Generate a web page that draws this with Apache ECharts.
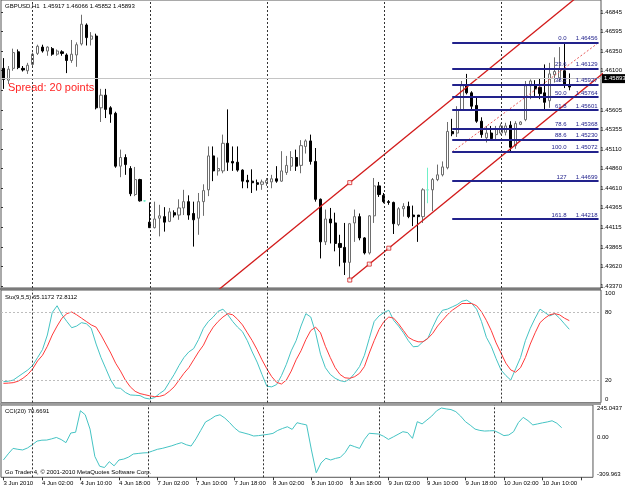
<!DOCTYPE html>
<html>
<head>
<meta charset="utf-8">
<script src="https://cdn.jsdelivr.net/npm/echarts@6/dist/echarts.min.js"></script>
<style>
  html, body { margin: 0; padding: 0; background: #fff; }
  #chart { width: 625px; height: 488px; }
</style>
</head>
<body>
<div id="chart"></div>
<script>
// time axis: one label every 8 hourly bars
const timeLabels = ['3 Jun 2010', '4 Jun 02:00', '4 Jun 10:00', '4 Jun 18:00', '7 Jun 02:00',
  '7 Jun 10:00', '7 Jun 18:00', '8 Jun 02:00', '8 Jun 10:00', '8 Jun 18:00', '9 Jun 02:00',
  '9 Jun 10:00', '9 Jun 18:00', '10 Jun 02:00', '10 Jun 10:00'];
const barsPerLabel = 8;
const slotCount = 123; // bar slots, incl. the empty shift on the right
const dayBreaks = [6, 30, 54, 78, 102];

// GBPUSD H1 candles
const opens = [1.4613, 1.4598, 1.4613, 1.4634, 1.4613, 1.4610, 1.4618, 1.4632, 1.4640, 1.4635,
  1.4638, 1.4631, 1.4634, 1.4630, 1.4623, 1.4630, 1.4644, 1.4668, 1.4650, 1.4654,
  1.4563, 1.4579, 1.4563, 1.4556, 1.4489, 1.4500, 1.4486, 1.4453, 1.4472, 1.4445,
  1.4418, 1.4411, 1.4423, 1.4425, 1.4419, 1.4430, 1.4427, 1.4436, 1.4444, 1.4429,
  1.4423, 1.4444, 1.4459, 1.4502, 1.4483, 1.4483, 1.4518, 1.4495, 1.4494, 1.4484,
  1.4471, 1.4470, 1.4468, 1.4466, 1.4468, 1.4469, 1.4473, 1.4470, 1.4481, 1.4489,
  1.4500, 1.4490, 1.4514, 1.4521, 1.4495, 1.4447, 1.4393, 1.4422, 1.4417, 1.4391,
  1.4386, 1.4367, 1.4417, 1.4425, 1.4398, 1.4379, 1.4426, 1.4464, 1.4452, 1.4444,
  1.4443, 1.4415, 1.4435, 1.4438, 1.4427, 1.4427, 1.4425, 1.4459, 1.4459, 1.4472,
  1.4478, 1.4487, 1.4533, 1.4531, 1.4560, 1.4591, 1.4582, 1.4566, 1.4546, 1.4525,
  1.4531, 1.4529, 1.4531, 1.4532, 1.4541, 1.4515, 1.4542, 1.4548, 1.4591, 1.4592,
  1.4589, 1.4582, 1.4572, 1.4605, 1.4601, 1.4610, 1.45917];
const highs = [1.4626, 1.4616, 1.4638, 1.4637, 1.4616, 1.4620, 1.4633, 1.4643, 1.4643, 1.4641,
  1.4640, 1.4637, 1.4636, 1.4632, 1.4649, 1.4646, 1.4681, 1.4670, 1.4659, 1.4657,
  1.4587, 1.4587, 1.4565, 1.4558, 1.4510, 1.4504, 1.4489, 1.4488, 1.4473, 1.4446,
  1.4443, 1.4444, 1.4440, 1.4437, 1.4436, 1.4433, 1.4447, 1.4459, 1.4452, 1.4444,
  1.4455, 1.4466, 1.4514, 1.4514, 1.4500, 1.4529, 1.4561, 1.4514, 1.4514, 1.4485,
  1.4478, 1.4485, 1.4472, 1.4472, 1.4474, 1.4478, 1.4489, 1.4508, 1.4502, 1.4508,
  1.4510, 1.4522, 1.4523, 1.4529, 1.4512, 1.4448, 1.4434, 1.4436, 1.4430, 1.4402,
  1.4417, 1.4417, 1.4434, 1.4429, 1.4399, 1.4427, 1.4474, 1.4469, 1.4455, 1.4446,
  1.4444, 1.4437, 1.4442, 1.4444, 1.4439, 1.4427, 1.4461, 1.4487, 1.4474, 1.4491,
  1.4495, 1.4545, 1.4549, 1.4565, 1.4597, 1.4606, 1.4584, 1.4576, 1.4551, 1.4540,
  1.4540, 1.4540, 1.4543, 1.4544, 1.4546, 1.4546, 1.4546, 1.4597, 1.4599, 1.4598,
  1.4600, 1.4618, 1.4620, 1.4627, 1.4640, 1.46456, 1.46066];
const lows = [1.4587, 1.4593, 1.4610, 1.4612, 1.4609, 1.4606, 1.4614, 1.4630, 1.4633, 1.4629,
  1.4629, 1.4629, 1.4629, 1.4607, 1.4620, 1.4615, 1.4642, 1.4642, 1.4642, 1.4561,
  1.4545, 1.4550, 1.4544, 1.4487, 1.4475, 1.4478, 1.4451, 1.4451, 1.4444, 1.4444,
  1.4411, 1.4410, 1.4400, 1.4406, 1.4418, 1.4424, 1.4421, 1.4427, 1.4421, 1.4387,
  1.4402, 1.4426, 1.4451, 1.4470, 1.4477, 1.4480, 1.4483, 1.4483, 1.4482, 1.4461,
  1.4461, 1.4455, 1.4458, 1.4459, 1.4464, 1.4461, 1.4468, 1.4469, 1.4478, 1.4483,
  1.4483, 1.4480, 1.4505, 1.4491, 1.4444, 1.4372, 1.4389, 1.4391, 1.4381, 1.4362,
  1.4351, 1.43446, 1.4393, 1.4395, 1.4377, 1.4377, 1.4417, 1.4450, 1.4442, 1.4440,
  1.4403, 1.4413, 1.4425, 1.4423, 1.4413, 1.4393, 1.4417, 1.4442, 1.4432, 1.4470,
  1.4476, 1.4485, 1.4527, 1.4526, 1.4559, 1.4580, 1.4561, 1.4544, 1.4525, 1.4519,
  1.4523, 1.4521, 1.4529, 1.4528, 1.45072, 1.4511, 1.4541, 1.4546, 1.4574, 1.4578,
  1.4574, 1.4559, 1.4563, 1.4595, 1.4596, 1.4588, 1.45852];
const closes = [1.4599, 1.4612, 1.4633, 1.4614, 1.4611, 1.4617, 1.4631, 1.4641, 1.4635, 1.4640,
  1.4631, 1.4635, 1.4632, 1.4623, 1.4631, 1.4643, 1.4669, 1.4652, 1.4654, 1.4563,
  1.4579, 1.4561, 1.4555, 1.4489, 1.4500, 1.4491, 1.4454, 1.4472, 1.4445, 1.4445,
  1.4411, 1.4422, 1.4426, 1.4418, 1.4431, 1.4427, 1.4436, 1.4444, 1.4427, 1.4421,
  1.4444, 1.4458, 1.4502, 1.4483, 1.4486, 1.4518, 1.4494, 1.4493, 1.4484, 1.4470,
  1.4469, 1.4468, 1.4466, 1.4469, 1.4471, 1.4473, 1.4470, 1.4483, 1.4490, 1.4500,
  1.4489, 1.4515, 1.4521, 1.4495, 1.4447, 1.4393, 1.4422, 1.4417, 1.4391, 1.4386,
  1.4367, 1.4416, 1.4425, 1.4398, 1.4379, 1.4426, 1.4464, 1.4453, 1.4444, 1.4443,
  1.4416, 1.4435, 1.4438, 1.4425, 1.4425, 1.4425, 1.4459, 1.4459, 1.4472, 1.4478,
  1.4488, 1.4533, 1.4530, 1.4560, 1.4591, 1.4582, 1.4565, 1.4546, 1.4529, 1.4531,
  1.4524, 1.4536, 1.4540, 1.4540, 1.4513, 1.4543, 1.4545, 1.4591, 1.4597, 1.4587,
  1.4581, 1.4570, 1.4606, 1.4609, 1.4612, 1.4592, 1.45893];

// Stochastic(9,5,5)
const stochMain = [18.6, 19, 20, 23, 26, 29, 33, 40, 47, 60,
  80, 86, 78, 72, 66.5, 68, 71, 70, 66, 52,
  40, 30, 20, 13, 12.7, 9, 6.8, 6.5, 6.2, 4,
  3.2, 4.5, 8, 11, 18, 25, 33, 40, 45, 48,
  56, 66, 72, 76, 81, 83, 78, 72, 67, 63,
  55, 45, 36, 25, 14.5, 14, 16, 24, 34, 46,
  55, 68, 79, 76, 62, 43, 31, 25, 21.6, 19.5,
  18.6, 21, 26, 32, 42, 57, 72, 77, 80, 82,
  73, 68, 62, 55, 49.6, 50, 54, 57, 67, 76,
  82, 83, 85, 87, 90, 91, 88, 83, 72, 58,
  50, 39, 29, 24, 20, 30, 40, 55, 66, 75,
  83, 80, 77, 79, 75, 70, 65.1172];
const stochSignal = [17.1, 17.3, 17.7, 19, 21.6, 25, 30, 37, 42, 50,
  60, 68, 75, 79, 80.5, 78, 75, 72, 69, 67,
  60, 52, 44, 35, 28, 20, 14, 10, 8, 7,
  6, 5.3, 5.5, 6.8, 10, 14, 20, 26, 31, 38,
  45, 51, 60, 67, 72, 76, 79, 78, 74, 69,
  62, 55, 47, 38, 30, 23, 18, 16.5, 20, 28,
  38, 46, 56, 64, 67, 62, 50, 40, 31, 25,
  22, 21.6, 23, 26, 32, 44, 55, 65, 72, 76,
  75, 70, 64, 58, 55.5, 54, 54, 57, 61.5, 68,
  73, 78, 82, 85, 88, 88, 88, 86, 80.7, 73,
  64, 53, 44, 35, 29, 27, 31, 40, 52, 62,
  71, 75, 78, 79, 78, 75, 72.8112];

// CCI(20)
const cci = [-177, -130, -88, -95, -100, -85, -60, -32, -25, -24,
  -15, -4, -20, -44, 30, 36, 201, 170, 60, -150,
  -225, -235, -190, -222, -177, -170, -155, -131, -127, -123,
  -121, -108, -95, -88, -78, -68, -55, -44, -60, -70,
  -15, 50, 115, 135, 160, 170, 145, 110, 70, 40,
  30, 20, 7, 10, 15, 20, 27, 50, 65, 78,
  58, 109, 100, 92, -100, -275, -200, -164, -177, -165,
  -157, -120, -62, -75, -88, -20, 28, 25, 22, 5,
  -19, 0, 20, 40, 33, -11, 117, 100, 130, 160,
  200, 222, 215, 210, 194, 160, 117, 90, 60, 50,
  45, 47, 48, 30, 10, 15, 40, 110, 150, 125,
  92, 100, 108, 115, 124, 105, 70.6691];

// price scale (bottom to top); the 11th label is hidden under the bid box
const priceTicks = ['1.43370', '1.43620', '1.43865', '1.44115', '1.44365', '1.44610', '1.44860',
  '1.45110', '1.45355', '1.45605', '', '1.46100', '1.46350', '1.46595', '1.46845'];
const priceFrame = [1.43345, 1.46997];
const stochTicks = [0, 20, 80, 100];
const stochLevels = [20, 80];
const cciRange = [-309.963, 245.0437];
const cciTicks = ['-309.963', '0.00', '245.0437'];
const spreadPoints = 20;

// drawn objects
const fibNames = ['0.0', '23.6', '38.2', '50.0', '61.8', '78.6', '88.6', '100.0', '127', '161.8'];
const fibPrices = [1.46456, 1.46129, 1.45927, 1.45764, 1.45601, 1.45368, 1.45230, 1.45072, 1.44699, 1.44218];
const fibAnchors = [[92, 1.45072], [122, 1.46456]];
const channelBase = [[71, 1.43446], [79, 1.43850]];
const channelTop = [71, 1.44681];

const last = closes.length - 1;
const slots = Array.from({ length: slotCount }, (_, i) => String(i));
const candles = opens.map((o, i) => [o, closes[i], lows[i], highs[i]]);

const slope = (channelBase[1][1] - channelBase[0][1]) / (channelBase[1][0] - channelBase[0][0]);
const along = (p, x) => [x, p[1] + slope * (x - p[0])];
const lowerLine = [along(channelBase[0], channelBase[0][0]), along(channelBase[0], slotCount)];
const upperLine = [along(channelTop, 40), along(channelTop, slotCount)];
const midX = (channelBase[0][0] + channelBase[1][0]) / 2;
const channelMarks = [channelBase[0], along(channelBase[0], midX), channelBase[1], channelTop];

const FONT = 'Liberation Sans';
const small = { fontFamily: FONT, fontSize: 6, color: '#000' };
const dotted = { color: '#333', type: [2, 2], width: 1 };

const dayLines = () => ({
  silent: true, symbol: 'none', label: { show: false },
  lineStyle: dotted,
  data: dayBreaks.map(d => ({ xAxis: d }))
});

const catAxis = (gi) => ({
  type: 'category', gridIndex: gi, data: slots, boundaryGap: true,
  axisLine: { show: false, onZero: false }, axisTick: { show: false },
  axisLabel: { show: false }, splitLine: { show: false }
});

const chart = echarts.init(document.getElementById('chart'));

chart.setOption({
  animation: false,
  backgroundColor: '#fff',
  textStyle: { fontFamily: FONT },
  grid: [
    { left: 1, top: 0, width: 600, height: 288, show: true, borderColor: '#555', borderWidth: 1 },
    { left: 1, top: 12, width: 600, height: 274, show: false },
    { left: 1, top: 290, width: 600, height: 112.6, show: true, borderColor: '#555', borderWidth: 1 },
    { left: 1, top: 405, width: 600, height: 72.3, show: true, borderColor: '#555', borderWidth: 1 }
  ],
  xAxis: [
    catAxis(0),
    { type: 'value', gridIndex: 1, show: false, min: 0, max: 1 },
    catAxis(2),
    Object.assign(catAxis(3), {
      axisTick: { show: true, interval: barsPerLabel - 1, alignWithLabel: true, length: 3, lineStyle: { color: '#333' } },
      axisLabel: Object.assign({}, small, {
        show: true, interval: barsPerLabel - 1, align: 'left', margin: 3,
        formatter: (v, i) => (i % barsPerLabel === 0 ? timeLabels[i / barsPerLabel] : '')
      })
    })
  ],
  yAxis: [
    { type: 'value', gridIndex: 0, min: priceFrame[0], max: priceFrame[1], show: false },
    {
      type: 'value', gridIndex: 1, position: 'right', min: 0, max: priceTicks.length - 1, interval: 1,
      axisLine: { show: false }, splitLine: { show: false },
      axisTick: { show: true, length: 2, lineStyle: { color: '#333' } },
      axisLabel: Object.assign({}, small, { margin: 3, formatter: v => priceTicks[v] })
    },
    {
      type: 'value', gridIndex: 2, position: 'right', min: 0, max: 100, interval: 20,
      axisLine: { show: false }, splitLine: { show: false }, axisTick: { show: false },
      axisLabel: Object.assign({}, small, {
        margin: 4, verticalAlignMaxLabel: 'top', verticalAlignMinLabel: 'bottom',
        formatter: v => (stochTicks.includes(v) ? String(v) : '')
      })
    },
    {
      type: 'value', gridIndex: 3, position: 'right', min: cciRange[0], max: cciRange[1], interval: -cciRange[0],
      axisLine: { show: false }, splitLine: { show: false }, axisTick: { show: false },
      axisLabel: Object.assign({}, small, {
        margin: 4, verticalAlignMaxLabel: 'top', verticalAlignMinLabel: 'bottom',
        formatter: (v, i) => cciTicks[i]
      })
    }
  ],
  series: [
    {
      type: 'candlestick', xAxisIndex: 0, yAxisIndex: 0, data: candles, barWidth: 2.6,
      itemStyle: {
        color: '#ffffff', color0: '#000000', borderColor: '#6e6e6e', borderColor0: '#000000',
        borderColorDoji: '#6ff0c8', borderWidth: 1
      },
      markLine: {
        silent: true, symbol: 'none', animation: false,
        data: [
          ...dayBreaks.map(d => ({ xAxis: d, lineStyle: dotted, label: { show: false } })),
          {
            yAxis: closes[last], lineStyle: { color: '#c4c4c4', type: 'solid', width: 1 },
            label: {
              show: true, position: 'end', distance: 1, formatter: closes[last].toFixed(5),
              backgroundColor: '#000', color: '#fff', fontFamily: FONT, fontSize: 6, padding: [2, 2, 1, 2]
            }
          }
        ]
      }
    },
    {
      type: 'line', xAxisIndex: 0, yAxisIndex: 0, data: upperLine, symbol: 'none', z: 4,
      lineStyle: { color: '#d21a1a', width: 1.3 }
    },
    {
      type: 'line', xAxisIndex: 0, yAxisIndex: 0, data: lowerLine, symbol: 'none', z: 4,
      lineStyle: { color: '#d21a1a', width: 1.3 }
    },
    {
      type: 'scatter', xAxisIndex: 0, yAxisIndex: 0, data: channelMarks, symbol: 'rect', symbolSize: 4, z: 5,
      itemStyle: { color: '#ffffff', borderColor: '#d21a1a', borderWidth: 1 }
    },
    {
      type: 'line', xAxisIndex: 0, yAxisIndex: 0, data: fibAnchors, symbol: 'none', z: 4,
      lineStyle: { color: '#e85a5a', width: 1, type: [2, 2] },
      markLine: {
        silent: true, symbol: 'none', animation: false,
        lineStyle: { color: '#22228c', width: 1.8, type: 'solid' },
        data: fibPrices.map((p, k) => [
          {
            coord: [fibAnchors[0][0], p],
            label: {
              show: true, position: 'insideEndTop', distance: 1,
              formatter: '{a|' + fibNames[k] + '}{b|' + p.toFixed(5) + '}',
              rich: {
                a: { fontFamily: FONT, fontSize: 6, color: '#22228c', width: 24, align: 'right', padding: [0, 7, 0, 0] },
                b: { fontFamily: FONT, fontSize: 6, color: '#22228c', width: 24, align: 'right' }
              }
            }
          },
          { coord: [slotCount - 1, p] }
        ])
      }
    },
    {
      type: 'line', xAxisIndex: 2, yAxisIndex: 2, data: stochMain, symbol: 'none',
      lineStyle: { color: '#45c4c4', width: 1 },
      markLine: {
        silent: true, symbol: 'none', animation: false, label: { show: false },
        data: [
          ...stochLevels.map(v => ({ yAxis: v, lineStyle: { color: '#bdbdbd', type: [2, 2], width: 1 } })),
          ...dayBreaks.map(d => ({ xAxis: d, lineStyle: dotted }))
        ]
      }
    },
    {
      type: 'line', xAxisIndex: 2, yAxisIndex: 2, data: stochSignal, symbol: 'none',
      lineStyle: { color: '#ff3b3b', width: 1 }
    },
    {
      type: 'line', xAxisIndex: 3, yAxisIndex: 3, data: cci, symbol: 'none',
      lineStyle: { color: '#45c4c4', width: 1 },
      markLine: dayLines()
    }
  ],
  graphic: [
    { type: 'rect', left: 0, top: 288, shape: { width: 601, height: 2 }, style: { fill: '#7a7a7a' }, silent: true },
    { type: 'rect', left: 0, top: 402.6, shape: { width: 601, height: 2.4 }, style: { fill: '#9c9c9c' }, silent: true },
    {
      type: 'text', left: 5, top: 3, silent: true,
      style: {
        text: 'GBPUSD,H1  ' + [opens[last], highs[last], lows[last], closes[last]].map(v => v.toFixed(5)).join(' '),
        font: '6px ' + FONT, fill: '#000'
      }
    },
    {
      type: 'text', left: 8, top: 82, silent: true,
      style: { text: 'Spread: ' + spreadPoints + ' points', font: '11px ' + FONT, fill: '#ff2424' }
    },
    {
      type: 'text', left: 5, top: 294, silent: true,
      style: {
        text: 'Sto(9,5,5) ' + stochMain[last].toFixed(4) + ' ' + stochSignal[last].toFixed(4),
        font: '6px ' + FONT, fill: '#000'
      }
    },
    {
      type: 'text', left: 5, top: 408, silent: true,
      style: { text: 'CCI(20) ' + cci[last].toFixed(4), font: '6px ' + FONT, fill: '#000' }
    },
    {
      type: 'text', left: 5, top: 469, silent: true,
      style: { text: 'Go Trader 4, \u00a9 2001-2010 MetaQuotes Software Corp.', font: '6px ' + FONT, fill: '#000' }
    }
  ]
});
</script>
</body>
</html>
